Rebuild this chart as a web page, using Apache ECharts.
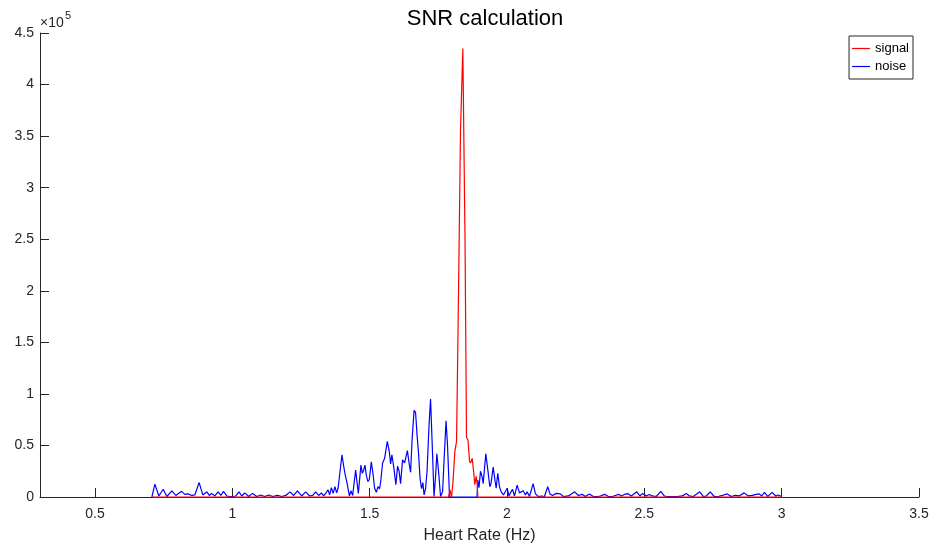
<!DOCTYPE html>
<html><head><meta charset="utf-8">
<script src="https://cdn.jsdelivr.net/npm/echarts@6/dist/echarts.min.js"></script>
<style>html,body{margin:0;padding:0;background:#fff}#c{width:931px;height:547px}</style>
</head><body><div id="c"></div>
<script>
const noiseFreq = [
0.7073,0.7182,0.7327,0.7484,0.7618,0.78,0.7945,0.8153,0.8273,0.8382,
0.8527,0.8636,0.8793,0.8927,0.9073,0.9164,0.9244,0.9364,0.9484,0.9582,
0.968,0.98,0.9909,1.0018,1.0127,1.0247,1.0345,1.0455,1.06,1.0735,
1.0891,1.1036,1.1182,1.1327,1.1473,1.1644,1.18,1.1945,1.2102,1.2236,
1.2371,1.2527,1.2673,1.2818,1.2927,1.3036,1.3145,1.3244,1.3327,1.34,
1.3484,1.3545,1.3607,1.3673,1.3738,1.38,1.3855,1.3993,1.4055,1.4116,
1.4175,1.4262,1.432,1.4382,1.4491,1.4538,1.4589,1.4684,1.4735,1.4782,
1.4829,1.488,1.4938,1.4989,1.5062,1.512,1.5182,1.5244,1.5302,1.5364,
1.5411,1.5473,1.5545,1.5644,1.5716,1.5764,1.5811,1.5884,1.5956,1.6018,
1.6073,1.6127,1.62,1.6273,1.6375,1.6436,1.6491,1.6545,1.6618,1.6673,
1.6727,1.6782,1.6836,1.6891,1.6938,1.6982,1.7036,1.7091,1.7164,1.7218,
1.7273,1.7345,1.74,1.7447,1.7509,1.7582,1.7655,1.7709,1.7782,1.7836,
1.7909,1.8909,1.8938,1.8982,1.9036,1.9091,1.9135,1.9229,1.9309,1.9375,
1.9418,1.9498,1.9564,1.9607,1.9665,1.9727,1.9789,1.9873,1.9935,2.0007,
2.0073,2.0127,2.02,2.0273,2.0371,2.0455,2.0527,2.0589,2.0673,2.0735,
2.0818,2.0953,2.1036,2.1145,2.1255,2.1364,2.1484,2.1564,2.1655,2.18,
2.1945,2.2055,2.2236,2.2345,2.2465,2.26,2.2735,2.2855,2.3,2.3145,
2.3291,2.34,2.3556,2.3691,2.3836,2.3945,2.4065,2.4164,2.4273,2.4407,
2.4527,2.4727,2.4836,2.4938,2.5073,2.5182,2.5291,2.5436,2.56,2.5727,
2.5836,2.6018,2.62,2.6382,2.6527,2.6636,2.6782,2.7018,2.7145,2.7255,
2.74,2.7545,2.7691,2.7836,2.8018,2.8164,2.8309,2.8455,2.8636,2.8782,
2.8927,2.9073,2.9182,2.9273,2.9375,2.9491,2.9655,2.9782,2.9873,3.0
];
const noiseVal = [
0,12500,1000,7500,500,6000,1500,5500,2500,3000,
1500,2000,14000,2000,5000,1500,3500,1000,5000,1500,
5500,1000,500,500,1000,5000,1000,4000,500,3500,
500,2000,500,2000,500,1500,500,1500,5000,1500,
6000,1000,5000,1000,1500,5000,1500,4000,1000,3500,
7000,2000,9000,3500,10000,4000,9000,41000,30000,21000,
14000,1000,6000,1500,26000,25000,3500,31000,23000,26000,
31000,21000,15000,17000,34000,23000,8500,4500,10000,8000,
17000,33000,37500,54000,44000,32000,41000,28000,12000,30000,
25000,13000,36000,33000,45000,33000,24000,55000,84000,82000,
60000,42000,18000,8000,14000,2000,8000,25000,70000,95000,
55000,500,20000,42000,25000,500,5000,35000,74000,50000,
0,0,16500,9000,25000,20000,13000,42000,25000,10000,
13000,29000,16000,8500,23000,10000,5000,2000,500,8500,
1000,4000,7500,1000,11500,4000,3000,6000,2000,5000,
500,13000,3000,500,1000,500,10000,3000,1500,3500,
3000,500,1000,3000,5000,1500,2600,500,3000,500,
500,1000,2600,500,500,1500,2600,1000,2500,3200,
1000,5000,1000,3500,1000,2500,1000,500,5500,1000,
500,300,500,1000,3500,1000,500,5000,500,1000,
5000,500,500,1500,3000,500,1500,1000,4000,1000,
1500,2500,3000,1000,4500,500,4500,1000,2000,500
];
const signalFreq = [0.7073,1.7873,1.7927,1.7982,1.8036,1.8102,1.8164,1.8218,1.8309,1.8393,1.8473,1.8527,1.8582,1.8636,1.8673,1.8735,1.8793,1.8829,1.888,1.8916,1.8938,3.0];
const signalVal  = [0,0,7000,0,15000,44000,54000,160000,356000,435000,250000,58000,55000,35000,33000,37500,23000,12000,20000,13000,0,0];
const xTicks = [0.5,1,1.5,2,2.5,3,3.5];
const seriesNames = ['signal','noise'];
const titleText = 'SNR calculation';
const xName = 'Heart Rate (Hz)';

const FONT = '"Liberation Sans", Arial, Helvetica, sans-serif';
const AX = '#262626';
const pair = (xs, ys) => xs.map((x, i) => [x, ys[i]]);

const chart = echarts.init(document.getElementById('c'), null, {renderer: 'canvas'});
chart.setOption({
  animation: false,
  backgroundColor: '#fff',
  title: {text: titleText, left: 480, top: 3, textAlign: 'center',
    textStyle: {fontFamily: FONT, fontSize: 22, fontWeight: 'normal', color: '#000'}},
  grid: {left: 40, right: 12, top: 33, bottom: 50, containLabel: false, outerBoundsMode: 'none'},
  legend: {data: seriesNames, orient: 'vertical', right: 18, top: 36,
    icon: 'path://M0,0h18v1.2h-18z',
    itemWidth: 18, itemHeight: 12, itemGap: 5, padding: [6, 4, 6, 3],
    borderColor: AX, borderWidth: 1, borderRadius: 0, backgroundColor: '#fff',
    textStyle: {fontFamily: FONT, fontSize: 13, color: '#000'}},
  xAxis: {
    type: 'value', min: 0.3, max: 3.5, position: 'bottom',
    name: xName, nameLocation: 'middle', nameGap: 31,
    nameTextStyle: {fontFamily: FONT, fontSize: 16, color: AX},
    axisLine: {show: true, onZero: false, lineStyle: {color: AX, width: 1}},
    axisTick: {show: true, inside: true, length: 9, customValues: xTicks, lineStyle: {color: AX}},
    axisLabel: {show: true, customValues: xTicks, margin: 10, fontFamily: FONT, fontSize: 14, color: AX,
      formatter: v => String(v)},
    splitLine: {show: false}
  },
  yAxis: {
    type: 'value', min: 0, max: 450000, interval: 50000, position: 'left',
    axisLine: {show: true, onZero: false, lineStyle: {color: AX, width: 1}},
    axisTick: {show: true, inside: true, length: 9, lineStyle: {color: AX}},
    axisLabel: {show: true, margin: 6, fontFamily: FONT, fontSize: 14, color: AX,
      formatter: v => String(Math.round(v / 1e4) / 10)},
    splitLine: {show: false}
  },
  graphic: [
    {type: 'text', left: 40, top: 16, style: {text: '×10', font: '14px ' + FONT, fill: AX}},
    {type: 'text', left: 65, top: 10, style: {text: '5', font: '11px ' + FONT, fill: AX}}
  ],
  series: [
    {name: seriesNames[1], type: 'line', data: pair(noiseFreq, noiseVal), showSymbol: false,
      symbol: 'none', clip: false, lineStyle: {color: '#0000ff', width: 1.2}, itemStyle: {color: '#0000ff'}, z: 2},
    {name: seriesNames[0], type: 'line', data: pair(signalFreq, signalVal), showSymbol: false,
      symbol: 'none', clip: false, lineStyle: {color: '#ff0000', width: 1.2}, itemStyle: {color: '#ff0000'}, z: 3}
  ]
});
</script>
</body></html>
